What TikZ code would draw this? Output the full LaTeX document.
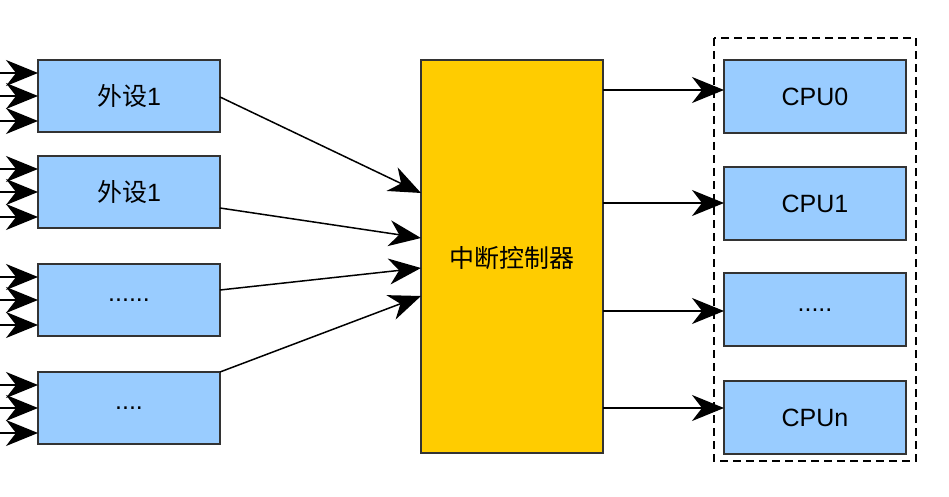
\documentclass[tikz,border=0pt]{standalone}
\usepackage{fontspec}
\setmainfont{Liberation Sans}
\newfontfamily\cjk{Noto Sans CJK SC}
\usetikzlibrary{arrows.meta}
\newcommand\dotsA{......}
\newcommand\dotsB{....}
\newcommand\dotsC{.....}
\begin{document}
\begin{tikzpicture}[x=1pt,y=-1pt,
  box/.style={draw=black!80,line width=1.5pt,fill={rgb,255:red,153;green,204;blue,255}},
  arr/.style={-{Stealth[length=32pt,width=26pt,inset=10pt]},line width=1.5pt},
  lab/.style={font=\fontsize{25}{30}\selectfont}]
\useasboundingbox (0,0) rectangle (949,497);
\definecolor{ctl}{RGB}{255,204,0}
% left boxes
\foreach \n/\t/\txt in {a/60/{{\cjk 外设}1}, b/156/{{\cjk 外设}1}, c/264/\dotsA, d/372/\dotsB}{
  \draw[box] (38,\t) rectangle (220,\t+72);
  \node[lab] (\n) at (129,\t+36) {\txt};
  \coordinate (\n i1) at (0,\t+13);
  \coordinate (\n i2) at (0,\t+36);
  \coordinate (\n i3) at (0,\t+61);
  \coordinate (\n e1) at (38,\t+13);
  \coordinate (\n e2) at (38,\t+36);
  \coordinate (\n e3) at (38,\t+61);
  \foreach \k in {1,2,3}{\draw[arr] (\n i\k) -- (\n e\k);}
}
% controller
\draw[line width=1.5pt,draw=black!80,fill=ctl] (421,60) rectangle (603,453);
\node[lab] (ctl) at (512,258) {\cjk 中断控制器};
\coordinate (ao) at (220,97);  \coordinate (ci1) at (421,193);
\coordinate (bo) at (220,208); \coordinate (ci2) at (421,238);
\coordinate (co) at (220,290); \coordinate (ci3) at (421,268);
\coordinate (do) at (220,372); \coordinate (ci4) at (421,296);
\draw[arr] (ao) -- (ci1);
\draw[arr] (bo) -- (ci2);
\draw[arr] (co) -- (ci3);
\draw[arr] (do) -- (ci4);
% dashed group
\draw[line width=1.5pt,dash pattern=on 8pt off 5pt] (714,38) rectangle (916,461);
% CPU boxes
\foreach \n/\t/\txt/\y in {p0/60/CPU0/90, p1/167/CPU1/203, p2/273/\dotsC/311, p3/381/CPUn/408}{
  \draw[box] (724,\t) rectangle (906,\t+73);
  \node[lab] (\n) at (815,\t+37) {\txt};
  \coordinate (\n s) at (603,\y);
  \coordinate (\n e) at (724,\y);
  \draw[arr] (\n s) -- (\n e);
}
\end{tikzpicture}
\end{document}
